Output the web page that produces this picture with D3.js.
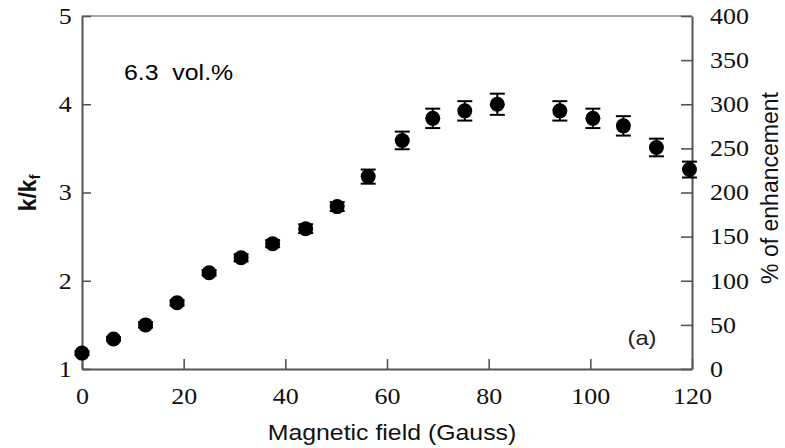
<!DOCTYPE html>
<html>
<head>
<meta charset="utf-8">
<script src="https://cdn.jsdelivr.net/npm/d3@7"></script>
<style>
  body { margin: 0; background: #fff; }
  svg { display: block; }
  .tick text { font-family: 'Liberation Serif', 'DejaVu Serif', serif; font-size: 23px; }
</style>
</head>
<body>
<div id="chart"></div>
<script>
// values
let field = [0, 6.2, 12.5, 18.7, 25, 31.3, 37.5, 44, 50.2, 56.3, 63, 69, 75.3, 81.7, 94, 100.5, 106.5, 113, 119.5];
let ratio = [1.18, 1.34, 1.5, 1.75, 2.09, 2.26, 2.42, 2.59, 2.84, 3.18, 3.59, 3.84, 3.925, 4.0, 3.925, 3.84, 3.755, 3.51, 3.26];
let errs  = [0.02, 0.02, 0.03, 0.03, 0.03, 0.04, 0.04, 0.05, 0.05, 0.08, 0.1, 0.11, 0.11, 0.12, 0.11, 0.11, 0.11, 0.1, 0.09];

let xTicks = [0, 20, 40, 60, 80, 100, 120];
let leftTicks = [1, 2, 3, 4, 5];
let rightTicks = [0, 50, 100, 150, 200, 250, 300, 350, 400];

let dim = { width: 785, height: 448, left: 82, right: 692, top: 16, bottom: 369 };

// the source figure is a little wider than tall, text looks stretched
let stretch = 1.13;

let svg = d3.select('#chart').append('svg')
    .attr('width', dim.width)
    .attr('height', dim.height);

let scaleX = d3.scaleLinear().domain([0, 120]).range([dim.left, dim.right]);
let scaleY = d3.scaleLinear().domain([1, 5]).range([dim.bottom, dim.top]);
let scaleR = d3.scaleLinear().domain([0, 400]).range([dim.bottom, dim.top]);

let axisColor = '#555';
let sans = "'Liberation Sans', Arial, sans-serif";

// top frame line (lighter)
svg.append('line')
    .attr('x1', dim.left).attr('x2', dim.right)
    .attr('y1', dim.top).attr('y2', dim.top)
    .attr('stroke', '#aaa').attr('stroke-width', 2);

function styleAxis(g) {
    g.attr('font-family', null).attr('font-size', null);
    g.select('.domain').attr('stroke', axisColor).attr('stroke-width', 2);
    g.selectAll('.tick line').attr('stroke', axisColor).attr('stroke-width', 1.6);
    g.selectAll('.tick text')
        .attr('fill', '#111')
        .attr('transform', `scale(${stretch},1)`);
}

// bottom axis, ticks point inward
let axisX = svg.append('g')
    .attr('transform', `translate(0,${dim.bottom})`)
    .call(d3.axisBottom(scaleX).tickValues(xTicks).tickSizeInner(-10).tickSizeOuter(0).tickPadding(19))
    .call(styleAxis);

// left axis
let axisY = svg.append('g')
    .attr('transform', `translate(${dim.left},0)`)
    .call(d3.axisLeft(scaleY).tickValues(leftTicks).tickFormat(d3.format('d')).tickSizeInner(-9).tickSizeOuter(0).tickPadding(9))
    .call(styleAxis);

// right axis
let axisR = svg.append('g')
    .attr('transform', `translate(${dim.right},0)`)
    .call(d3.axisRight(scaleR).tickValues(rightTicks).tickSizeInner(-11).tickSizeOuter(0).tickPadding(16))
    .call(styleAxis);

// error bars
let data = field.map((f, i) => ({ f: f, k: ratio[i], e: errs[i] }));

let bars = svg.append('g').attr('stroke', '#000').attr('stroke-width', 2);
bars.selectAll('line.v')
    .data(data)
    .join('line')
    .attr('class', 'v')
    .attr('x1', d => scaleX(d.f)).attr('x2', d => scaleX(d.f))
    .attr('y1', d => scaleY(d.k - d.e)).attr('y2', d => scaleY(d.k + d.e));
bars.selectAll('line.capT')
    .data(data)
    .join('line')
    .attr('class', 'capT')
    .attr('x1', d => scaleX(d.f) - 7.5).attr('x2', d => scaleX(d.f) + 7.5)
    .attr('y1', d => scaleY(d.k + d.e)).attr('y2', d => scaleY(d.k + d.e));
bars.selectAll('line.capB')
    .data(data)
    .join('line')
    .attr('class', 'capB')
    .attr('x1', d => scaleX(d.f) - 7.5).attr('x2', d => scaleX(d.f) + 7.5)
    .attr('y1', d => scaleY(d.k - d.e)).attr('y2', d => scaleY(d.k - d.e));

// markers
svg.append('g').selectAll('circle')
    .data(data)
    .join('circle')
    .attr('cx', d => scaleX(d.f))
    .attr('cy', d => scaleY(d.k))
    .attr('r', 7.5)
    .attr('fill', '#000');

// labels
svg.append('text')
    .attr('transform', `translate(392,440) scale(${stretch},1)`)
    .attr('text-anchor', 'middle')
    .attr('font-family', sans).attr('font-size', 22)
    .attr('fill', '#111')
    .text('Magnetic field (Gauss)');

let kLabel = svg.append('text')
    .attr('transform', 'translate(36,193) rotate(-90)')
    .attr('text-anchor', 'middle')
    .attr('font-family', sans).attr('font-size', 23).attr('font-weight', 'bold')
    .attr('fill', '#111');
kLabel.append('tspan').text('k/k');
kLabel.append('tspan').attr('font-size', 14).attr('dy', 4).text('f');

svg.append('text')
    .attr('transform', 'translate(778,188) rotate(-90)')
    .attr('text-anchor', 'middle')
    .attr('font-family', sans).attr('font-size', 23)
    .attr('fill', '#111')
    .text('% of enhancement');

svg.append('text')
    .attr('transform', `translate(124,80) scale(${stretch},1)`)
    .attr('font-family', sans).attr('font-size', 22)
    .attr('fill', '#000')
    .style('white-space', 'pre')
    .text('6.3  vol.%');

svg.append('text')
    .attr('transform', `translate(642,345) scale(${stretch},1)`)
    .attr('text-anchor', 'middle')
    .attr('font-family', sans).attr('font-size', 21)
    .attr('fill', '#222')
    .text('(a)');
</script>
</body>
</html>
